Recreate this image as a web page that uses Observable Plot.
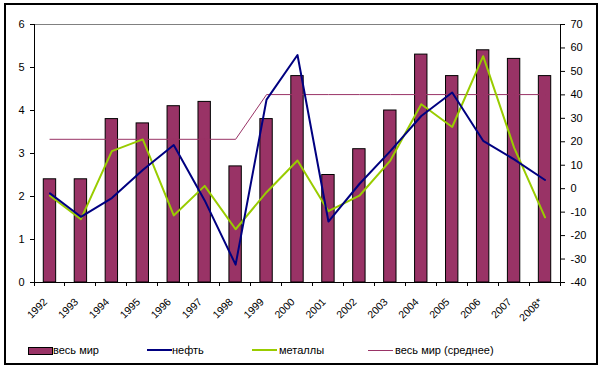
<!DOCTYPE html>
<html><head><meta charset="utf-8">
<script src="https://cdn.jsdelivr.net/npm/d3@7"></script>
<script src="https://cdn.jsdelivr.net/npm/@observablehq/plot@0.6"></script>
<style>
body{margin:0;background:#fff;font-family:"Liberation Sans",Arial,sans-serif;}
#frame{position:absolute;left:4px;top:3px;width:590px;height:358px;border:2px solid #000;}
#chart{position:absolute;left:0;top:0;}
.leg{position:absolute;top:343px;font-size:11px;line-height:14px;color:#000;white-space:nowrap;}
.sw{position:absolute;}
</style>
</head><body>
<div id="frame"></div>
<div id="chart"></div>
<div id="legend"></div>
<script>
const years = ["1992","1993","1994","1995","1996","1997","1998","1999","2000","2001","2002","2003","2004","2005","2006","2007","2008*"];
const world = [2.4,2.4,3.8,3.7,4.1,4.2,2.7,3.8,4.8,2.5,3.1,4.0,5.3,4.8,5.4,5.2,4.8];
const oil = [-2,-12,-4,8,18.6,-5,-32.4,38,57,-14,2,16,31,41,20.4,12.5,3.7];
const metals = [-3,-13,16,21,-11.4,1.2,-17.3,-1.5,12,-9.6,-3,12,36,26.3,56.5,17.5,-12.2];
const worldMean = [3.33,3.33,3.33,3.33,3.33,3.33,3.33,4.37,4.37,4.37,4.37,4.37,4.37,4.37,4.37,4.37,4.37];
const leftTicks = [0,1,2,3,4,5,6];
const rightTicks = [-40,-30,-20,-10,0,10,20,30,40,50,60,70];
const leftDomain = [0,6];
const rightDomain = [-40,70];

// map a right-axis value into left-axis units (secondary axis)
const toLeft = v => (v - rightDomain[0]) / (rightDomain[1]-rightDomain[0]) * (leftDomain[1]-leftDomain[0]) + leftDomain[0];
const fromLeft = d => (d - leftDomain[0]) / (leftDomain[1]-leftDomain[0]) * (rightDomain[1]-rightDomain[0]) + rightDomain[0];

const rows = years.map((y,i)=>({year:y, world:world[i], oil:toLeft(oil[i]), metals:toLeft(metals[i]), mean:worldMean[i]}));

function axisLines(index, scales, values, dims){
  const l = dims.marginLeft, r = dims.width - dims.marginRight;
  const t = dims.marginTop, b = dims.height - dims.marginBottom;
  const g = d3.create("svg:g").attr("stroke","#000").attr("shape-rendering","crispEdges");
  g.append("line").attr("x1",l).attr("x2",l).attr("y1",t).attr("y2",b);
  g.append("line").attr("x1",r).attr("x2",r).attr("y1",t).attr("y2",b);
  g.append("line").attr("x1",l).attr("x2",r).attr("y1",b).attr("y2",b);
  const n = years.length;
  for(let i=0;i<=n;i++){
    const x = l + i*(r-l)/n;
    g.append("line").attr("x1",x).attr("x2",x).attr("y1",b).attr("y2",b+4);
  }
  return g.node();
}

const plot = Plot.plot({
  width:605, height:330, marginLeft:34, marginRight:45, marginTop:24, marginBottom:48,
  style:{fontFamily:"Liberation Sans, Arial, sans-serif", fontSize:"11px", color:"#000", background:"transparent", overflow:"visible"},
  x:{domain:years, paddingInner:0.6, paddingOuter:0.3, round:false, axis:null},
  y:{domain:leftDomain},
  marks:[
    Plot.ruleY([leftDomain[1]], {stroke:"#808080", shapeRendering:"crispEdges"}),
    Plot.barY(rows, {x:"year", y:"world", fill:"#993366", stroke:"#000", strokeWidth:1}),
    Plot.line(rows, {x:"year", y:"mean", stroke:"#993366", strokeWidth:1}),
    Plot.line(rows, {x:"year", y:"metals", stroke:"#99CC00", strokeWidth:2}),
    Plot.line(rows, {x:"year", y:"oil", stroke:"#000080", strokeWidth:2}),
    axisLines,
    Plot.axisY(leftTicks, {anchor:"left", tickSize:4, tickPadding:6, label:null}),
    Plot.axisY(rightTicks.map(toLeft), {anchor:"right", tickSize:4, tickPadding:6, label:null, tickFormat: d => String(Math.round(fromLeft(d)))}),
    Plot.text(years, {x:d=>d, frameAnchor:"bottom", rotate:-45, textAnchor:"end", lineAnchor:"bottom", dx:-2, dy:20, fontSize:10.5})
  ]
});
document.getElementById("chart").appendChild(plot);

const legendItems = [
  {label:"весь мир", kind:"bar", color:"#993366", sx:28, tx:53},
  {label:"нефть", kind:"line", color:"#000080", w:2, sx:147, tx:172},
  {label:"металлы", kind:"line", color:"#99CC00", w:2, sx:252, tx:279},
  {label:"весь мир (среднее)", kind:"line", color:"#993366", w:1, sx:368, tx:395}
];
const leg = document.getElementById("legend");
for(const it of legendItems){
  const s = document.createElement("div");
  s.className="sw";
  if(it.kind==="bar"){
    Object.assign(s.style,{left:it.sx+"px",top:"347px",width:"23px",height:"6px",background:it.color,border:"1px solid #000"});
  } else {
    Object.assign(s.style,{left:it.sx+"px",top:(350-Math.floor(it.w/2))+"px",width:"25px",height:it.w+"px",background:it.color});
  }
  leg.appendChild(s);
  const t = document.createElement("div");
  t.className="leg"; t.style.left=it.tx+"px"; t.textContent=it.label;
  leg.appendChild(t);
}
</script>
</body></html>
